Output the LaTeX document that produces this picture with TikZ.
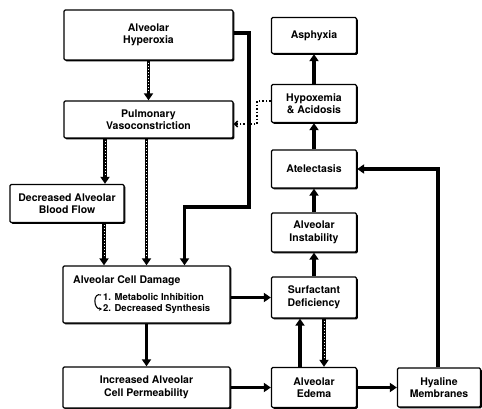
\documentclass[tikz,border=0pt]{standalone}
\usepackage{fontspec}
\setmainfont{TeX Gyre Heros}
\usetikzlibrary{arrows.meta,shadows}
\newcommand{\flowfont}{\bfseries\fontsize{10.5}{12.5}\selectfont}
\newcommand{\itemfont}{\bfseries\fontsize{9.5}{11}\selectfont}
\tikzset{
  box/.style={draw, line width=1.3pt, fill=white, rounded corners=1.2pt, align=center, inner sep=2pt, font=\flowfont,
    general shadow={fill=black, shadow xshift=1.3pt, shadow yshift=-1.3pt}},
  rbox/.style={box, minimum width=85pt, minimum height=38pt},
  plain/.style={inner sep=0pt, font=\flowfont},
  item/.style={inner sep=0pt, font=\itemfont},
  arrow/.style={line width=3.2pt, -{Triangle[width=9pt,length=7pt]}},
  dotarrow/.style={arrow, postaction={draw=white, line width=0.7pt, dash pattern=on 0.7pt off 2.3pt, -, shorten >=8pt, shorten <=2pt}},
  thindot/.style={line width=1.5pt, dotted, -{Straight Barb[length=3pt,width=6pt]}}
}
\begin{document}
\begin{tikzpicture}[x=1pt, y=-1pt]
  \useasboundingbox (0,0) rectangle (482,409);
  % left column
  \node[box, minimum width=169pt, minimum height=50pt] (hyper) at (148.5,35) {Alveolar\\Hyperoxia};
  \node[box, minimum width=169pt, minimum height=37pt] (pulm) at (148.5,119.5) {Pulmonary\\Vasoconstriction};
  \node[box, minimum width=114pt, minimum height=38pt] (blood) at (67,203.5) {Decreased Alveolar\\Blood Flow};
  \node[box, minimum width=167pt, minimum height=57pt] (damage) at (146.5,294.5) {};
  \node[plain, anchor=west] (dmgtitle) at (73,281) {Alveolar Cell Damage};
  \node[item, anchor=west] (item1) at (103,297) {1. Metabolic Inhibition};
  \node[item, anchor=west] (item2) at (103,309) {2. Decreased Synthesis};
  \node[box, minimum width=167pt, minimum height=41pt] (perm) at (146.5,387.5) {Increased Alveolar\\Cell Permeability};
  % right column
  \node[rbox, minimum height=36pt] (asph) at (314,35.5) {Asphyxia};
  \node[rbox] (hypox) at (314,103.5) {Hypoxemia\\\& Acidosis};
  \node[rbox] (atel) at (314,169) {Atelectasis};
  \node[rbox, minimum height=39pt] (inst) at (314,232.5) {Alveolar\\Instability};
  \node[rbox, minimum height=41pt] (surf) at (314,297.5) {Surfactant\\Deficiency};
  \node[rbox, minimum height=40pt] (edema) at (314,387.5) {Alveolar\\Edema};
  \node[rbox, minimum width=83pt, minimum height=39pt] (hyal) at (439,387.5) {Hyaline\\Membranes};

  % feedback from hypoxemia (dotted, under the thick line)
  \draw[thindot] ([yshift=2.5pt]hypox.west) -| (257,124) -- ([yshift=-4.5pt]pulm.east);

  \draw[dotarrow] (hyper.south) -- (pulm.north);
  \draw[dotarrow] ([xshift=-43.5pt]pulm.south) -- ([xshift=38pt]blood.north);
  \draw[dotarrow] ([xshift=37pt]blood.south) -- ([xshift=-42.5pt]damage.north);
  \draw[dotarrow] ([xshift=-2pt]pulm.south) -- (damage.north);
  \draw[arrow] ([yshift=2pt]hyper.east) -| (249,207) -| ([xshift=38pt]damage.north);
  \draw[arrow] (damage.south) -- (perm.north);
  \draw[line width=1.1pt, -{Stealth[length=3pt,width=3.5pt]}] ([xshift=-2pt,yshift=2pt]item1.west)
    to[out=160, in=180, looseness=1.6] ([xshift=-1pt]item2.west);

  \draw[arrow] ([yshift=-3pt]damage.east) -- (surf.west);
  \draw[arrow] (perm.east) -- (edema.west);
  \draw[arrow] ([xshift=-14pt]edema.north) -- ([xshift=-14pt]surf.south);
  \draw[dotarrow] ([xshift=10pt]surf.south) -- ([xshift=10pt]edema.north);
  \draw[arrow] (edema.east) -- (hyal.west);
  \draw[arrow] (surf.north) -- (inst.south);
  \draw[arrow] (inst.north) -- (atel.south);
  \draw[arrow] (atel.north) -- (hypox.south);
  \draw[arrow] (hypox.north) -- (asph.south);
  \draw[arrow] ([xshift=-1pt]hyal.north) |- (atel.east);
\end{tikzpicture}
\end{document}
